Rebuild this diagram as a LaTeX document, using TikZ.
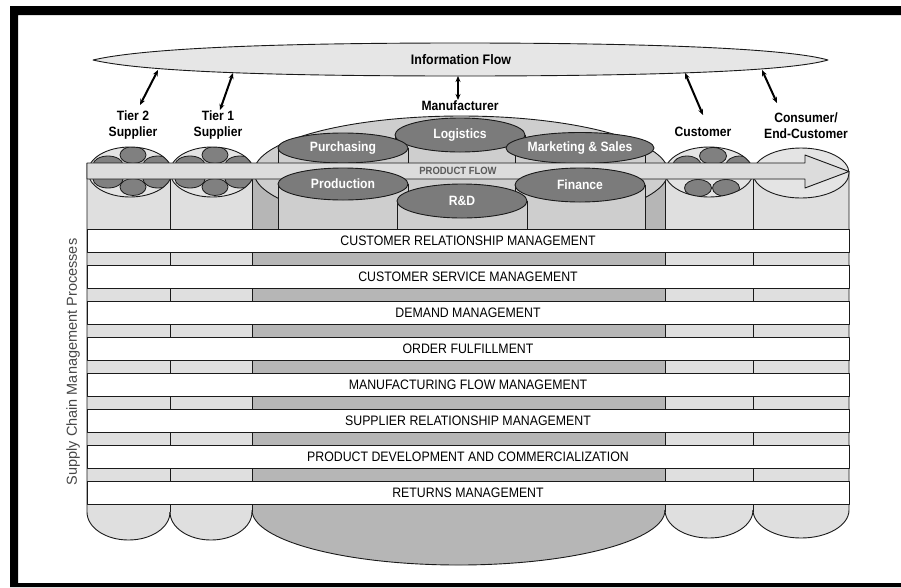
\documentclass[tikz,border=0pt]{standalone}
\usepackage{fontspec}
\setmainfont{Liberation Sans}[FakeStretch=0.9]
\newfontfamily\vfont{Liberation Sans}
\usetikzlibrary{shapes.geometric,arrows.meta}
\definecolor{infofill}{HTML}{E6E6E6}
\definecolor{lightcol}{HTML}{DFDFDF}
\definecolor{darkcol}{HTML}{B6B6B6}
\definecolor{manell}{HTML}{CECECE}
\definecolor{miniell}{HTML}{7B7B7B}
\definecolor{smallell}{HTML}{808080}
\definecolor{clusterfill}{HTML}{E4E4E4}
\definecolor{bandfill}{HTML}{DCDCDC}
\definecolor{linec}{HTML}{1A1A1A}
\tikzset{
  outl/.style={draw=linec, line width=0.9pt},
  lbl/.style={font=\bfseries\fontsize{13.5}{16}\selectfont, align=center, inner sep=0pt},
  minell/.style={ellipse, draw=linec, line width=0.9pt, fill=miniell, text=white,
    font=\bfseries\fontsize{13.5}{16}\selectfont, inner sep=0pt, minimum width=130pt},
  rowbox/.style={rectangle, draw=linec, line width=1pt, fill=white, minimum width=762pt,
    minimum height=23pt, inner sep=0pt, font=\fontsize{13.7}{16}\selectfont},
  infarrow/.style={line width=2pt, {Stealth[length=6pt,width=5pt]}-{Stealth[length=6pt,width=5pt]}},
  smalle/.style={fill=smallell, draw=linec, line width=0.8pt},
}
\begin{document}
\begin{tikzpicture}[x=1pt, y=-1pt, line join=round]
\useasboundingbox (0,0) rectangle (901,587);
% frame
\fill[black, even odd rule] (10,6) rectangle (901,587) (18,15) rectangle (901,583);

% information flow
\draw[outl, fill=infofill] (93,60) .. controls (140,49) and (260,43) .. (460,43)
  .. controls (660,43) and (790,49) .. (828,60)
  .. controls (790,71) and (660,76) .. (460,76)
  .. controls (260,76) and (140,71) .. (93,60) -- cycle;
\node[font=\bfseries\fontsize{13.8}{16}\selectfont, inner sep=0pt] (info) at (461,60) {Information Flow};

% arrow end points
\coordinate (a2t) at (158,70);  \coordinate (a2b) at (140,105);
\coordinate (a1t) at (233,73);  \coordinate (a1b) at (220,110);
\coordinate (amt) at (458,76);  \coordinate (amb) at (458,100);
\coordinate (act) at (685,73);  \coordinate (acb) at (703,115);
\coordinate (aet) at (762,70);  \coordinate (aeb) at (777,103);
\draw[infarrow] (a2t) -- (a2b);
\draw[infarrow] (a1t) -- (a1b);
\draw[infarrow] (amt) -- (amb);
\draw[infarrow] (act) -- (acb);
\draw[infarrow] (aet) -- (aeb);

% labels
\node[lbl] (tier2) at (133,125) {Tier 2\\Supplier};
\node[lbl] (tier1) at (218,125) {Tier 1\\Supplier};
\node[lbl] (manu) at (460,106) {Manufacturer};
\node[lbl] (cust) at (703,132) {Customer};
\node[lbl] (cons) at (806,126) {Consumer/\\End-Customer};

% column fills
\fill[lightcol] (87,163) -- (87,512) .. controls +(0,15.5) and +(-23,0) .. (128.5,540)
  .. controls +(23,0) and +(0,15.5) .. (170,512) -- (170,163) -- cycle;
\fill[lightcol] (170,163) -- (170,512) .. controls +(0,15.5) and +(-22.6,0) .. (211,540)
  .. controls +(22.6,0) and +(0,15.5) .. (252,512) -- (252,163) -- cycle;
\fill[darkcol] (252,163) -- (252,510) .. controls +(0,30.4) and +(-114,0) .. (458.5,565)
  .. controls +(114,0) and +(0,30.4) .. (665,510) -- (665,163) -- cycle;
\fill[lightcol] (665,163) -- (665,510) .. controls +(0,15.5) and +(-24.3,0) .. (709,538)
  .. controls +(24.3,0) and +(0,15.5) .. (753,510) -- (753,163) -- cycle;
\fill[lightcol] (753,163) -- (753,510) .. controls +(0,15.5) and +(-26.5,0) .. (801,538)
  .. controls +(26.5,0) and +(0,15.5) .. (849,510) -- (849,171) -- cycle;
% column outlines
\draw[outl] (87,163) -- (87,512) .. controls +(0,15.5) and +(-23,0) .. (128.5,540)
  .. controls +(23,0) and +(0,15.5) .. (170,512);
\draw[outl] (170,512) .. controls +(0,15.5) and +(-22.6,0) .. (211,540)
  .. controls +(22.6,0) and +(0,15.5) .. (252,512);
\draw[outl] (252,510) .. controls +(0,30.4) and +(-114,0) .. (458.5,565)
  .. controls +(114,0) and +(0,30.4) .. (665,510);
\draw[outl] (665,510) .. controls +(0,15.5) and +(-24.3,0) .. (709,538)
  .. controls +(24.3,0) and +(0,15.5) .. (753,510);
\draw[outl] (753,510) .. controls +(0,15.5) and +(-26.5,0) .. (801,538)
  .. controls +(26.5,0) and +(0,15.5) .. (849,510) -- (849,171);
\foreach \xx in {170,252,665,753} \draw[outl] (\xx,179) -- (\xx,512);

% Tier 2 cluster
\begin{scope}[shift={(130,172)}]
  \fill[clusterfill] (0,0) ellipse [x radius=42pt, y radius=25pt];
  \begin{scope}
    \clip (0,0) ellipse [x radius=42pt, y radius=25pt];
    \draw[smalle] (-22,-7) ellipse [x radius=15pt, y radius=9pt];
    \draw[smalle] (28,-7) ellipse [x radius=15pt, y radius=9pt];
    \draw[smalle] (-22,7) ellipse [x radius=15pt, y radius=9pt];
    \draw[smalle] (28,7) ellipse [x radius=15pt, y radius=9pt];
    \draw[smalle] (3,-17) ellipse [x radius=13pt, y radius=8.5pt];
    \draw[smalle] (3,15) ellipse [x radius=13pt, y radius=8.5pt];
  \end{scope}
  \draw[outl] (0,0) ellipse [x radius=42pt, y radius=25pt];
\end{scope}
% Tier 1 cluster
\begin{scope}[shift={(212,172)}]
  \fill[clusterfill] (0,0) ellipse [x radius=42pt, y radius=25pt];
  \begin{scope}
    \clip (0,0) ellipse [x radius=42pt, y radius=25pt];
    \draw[smalle] (-22,-7) ellipse [x radius=15pt, y radius=9pt];
    \draw[smalle] (28,-7) ellipse [x radius=15pt, y radius=9pt];
    \draw[smalle] (-22,7) ellipse [x radius=15pt, y radius=9pt];
    \draw[smalle] (28,7) ellipse [x radius=15pt, y radius=9pt];
    \draw[smalle] (3,-17) ellipse [x radius=13pt, y radius=8.5pt];
    \draw[smalle] (3,15) ellipse [x radius=13pt, y radius=8.5pt];
  \end{scope}
  \draw[outl] (0,0) ellipse [x radius=42pt, y radius=25pt];
\end{scope}
% Customer cluster
\begin{scope}[shift={(709,172)}]
  \fill[clusterfill] (0,0) ellipse [x radius=44pt, y radius=25pt];
  \begin{scope}
    \clip (0,0) ellipse [x radius=44pt, y radius=25pt];
    \draw[smalle] (-22,-7) ellipse [x radius=14pt, y radius=9pt];
    \draw[smalle] (31,-7) ellipse [x radius=14pt, y radius=9pt];
    \draw[smalle] (4,-16) ellipse [x radius=13.5pt, y radius=8.5pt];
    \draw[smalle] (-11,16) ellipse [x radius=13.5pt, y radius=8.5pt];
    \draw[smalle] (17,16) ellipse [x radius=13.5pt, y radius=8.5pt];
  \end{scope}
  \draw[outl] (0,0) ellipse [x radius=44pt, y radius=25pt];
\end{scope}
% Consumer ellipse
\draw[outl, fill=clusterfill] (801,173) ellipse [x radius=48pt, y radius=25pt];

% Manufacturer big ellipse
\draw[outl, fill=manell] (461,172) ellipse [x radius=207pt, y radius=56pt];

% upper cylinders
\fill[manell] (395,135) rectangle (525,163);
\draw[outl] (395,135) -- (395,163) (525,135) -- (525,163);
\node[minell, minimum height=34pt] (logi) at (460,135) {Logistics};
\fill[manell] (278,148) rectangle (408,163);
\draw[outl] (278,148) -- (278,163) (408,148) -- (408,163);
\node[minell, minimum height=30pt] (purch) at (343,148) {Purchasing};
\fill[manell] (515,148) rectangle (645,163);
\draw[outl] (515,148) -- (515,163) (645,148) -- (645,163);
\node[minell, minimum height=31pt] (mark) at (580,148) {Marketing \& Sales};

% product flow arrow
\draw[outl, fill=bandfill] (87,163) -- (805,163) -- (805,155) -- (849,171.5) -- (805,188)
  -- (805,179) -- (87,179) -- cycle;

% lower cylinders
\fill[manell] (278,184) rectangle (408,229);
\draw[outl] (278,184) -- (278,229) (408,184) -- (408,229);
\node[minell, minimum height=32pt] (prod) at (343,184) {Production};
\fill[manell] (515,185) rectangle (645,229);
\draw[outl] (515,185) -- (515,229) (645,185) -- (645,229);
\node[minell, minimum height=34pt] (fin) at (580,185) {Finance};
\fill[manell] (397,201) rectangle (527,229);
\draw[outl] (397,201) -- (397,229) (527,201) -- (527,229);
\node[minell, minimum height=34pt] (rd) at (462,201) {R\&D};

\node[font=\bfseries\fontsize{10.5}{12}\selectfont, text=black!65, inner sep=0pt] (pflow) at (458,171) {PRODUCT FLOW};

% process rows
\foreach \i/\txt in {0/CUSTOMER RELATIONSHIP MANAGEMENT, 1/CUSTOMER SERVICE MANAGEMENT,
  2/DEMAND MANAGEMENT, 3/ORDER FULFILLMENT, 4/MANUFACTURING FLOW MANAGEMENT,
  5/SUPPLIER RELATIONSHIP MANAGEMENT, 6/PRODUCT DEVELOPMENT AND COMMERCIALIZATION,
  7/RETURNS MANAGEMENT}
  \node[rowbox] (row\i) at (468,240.5+36*\i) {\txt};

% vertical label
\node[rotate=90, text=black!72, inner sep=0pt, font=\vfont\fontsize{14.5}{16}\selectfont] (scm) at (73,362) {Supply Chain Management Processes};
\end{tikzpicture}
\end{document}
